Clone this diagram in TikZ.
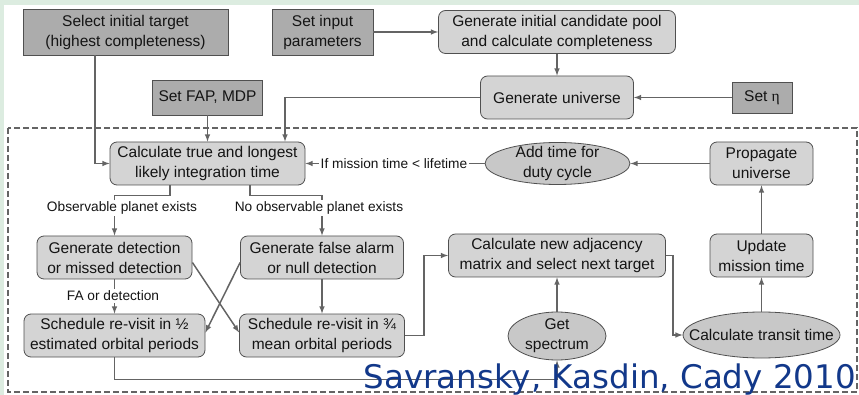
\documentclass[tikz,border=0pt]{standalone}
\usepackage{fontspec}
\setmainfont{Liberation Sans}
\newfontfamily\citefont{DejaVu Sans}
\newfontfamily\etafont{Liberation Serif}
\usepackage{tikz}
\usetikzlibrary{shapes}
\usetikzlibrary{arrows}
\usetikzlibrary{calc}
\definecolor{stripgreen}{RGB}{220,236,224}
\definecolor{boxdark}{RGB}{172,172,172}
\definecolor{boxlight}{RGB}{212,212,212}
\definecolor{ovalgray}{RGB}{200,200,200}
\definecolor{edgegray}{RGB}{100,100,100}
\definecolor{rimgray}{RGB}{80,80,80}
\definecolor{citeblue}{RGB}{18,56,138}
\tikzset{darkbox/.style={rectangle, draw=rimgray, fill=boxdark, line width=0.8pt, inner sep=0pt, align=center, text=black!92, font=\fontsize{15.5}{20}\selectfont}}
\tikzset{roundbox/.style={darkbox, rounded corners=7pt, fill=boxlight}}
\tikzset{oval/.style={ellipse, draw=rimgray, fill=ovalgray, line width=0.8pt, inner sep=0pt}}
\tikzset{ovaltext/.style={align=center, inner sep=0pt, text=black!92, font=\fontsize{15.5}{20}\selectfont}}
\tikzset{link/.style={draw=edgegray, line width=1.5pt, -latex}}
\tikzset{cond/.style={fill=white, inner sep=1.5pt, text=black!92, font=\fontsize{13.7}{16}\selectfont}}

\begin{document}
\begin{tikzpicture}[x=1pt,y=-1pt]
  \useasboundingbox (0,0) rectangle (859,395);
  \fill[white] (0,0) rectangle (859,395);
  \fill[stripgreen] (0,0) rectangle (859,5);
  \fill[stripgreen] (0,0) rectangle (4,395);
  \draw[edgegray, line width=1.2pt, dash pattern=on 6pt off 3pt] (8,128) rectangle (857,392);
  \foreach \lab/\x/\y/\w/\h/\txt in {
    sel/125.5/32/205/46/{Select initial target\\(highest completeness)},
    setin/322.5/32/101/46/{Set input\\parameters},
    fap/207.5/97.5/110/35/{Set FAP, MDP},
    eta/762/97.5/60/31/{Set {\etafont η}}%
  } {
    \node[darkbox, minimum width=\w, minimum height=\h] (\lab) at (\x, \y) {\txt};
  }
  \foreach \lab/\x/\y/\w/\txt in {
    pool/557/32/237/{Generate initial candidate pool\\and calculate completeness},
    univ/557/97.5/153/{Generate universe},
    calc/207.5/163.5/195/{Calculate true and longest\\likely integration time},
    prop/761.5/163.5/103/{Propagate\\universe},
    gdet/114.5/257.5/155/{Generate detection\\or missed detection},
    gfa/322/257.5/163/{Generate false alarm\\or null detection},
    s12/114.5/335.5/181/{Schedule re-visit in ½\\estimated orbital periods},
    s34/322/335.5/165/{Schedule re-visit in ¾\\mean orbital periods},
    adj/557/255.5/217/{Calculate new adjacency\\matrix and select next target},
    upd/761.5/255.5/103/{Update\\mission time}%
  } {
    \node[roundbox, minimum width=\w, minimum height=43] (\lab) at (\x, \y) {\txt};
  }
  \foreach \lab/\x/\y/\w/\h/\txt in {
    add/557.5/163.5/145/42/{Add time for\\duty cycle},
    spec/557/336/98/48/{Get\\spectrum},
    transit/761.5/335/157/46/{Calculate transit time}%
  } {
    \node[oval, minimum width=\w, minimum height=\h] (\lab) at (\x, \y) {};
    \node[ovaltext] at (\lab) {\txt};
  }
  \foreach \u/\v in {
    setin/pool,
    pool/univ,
    eta/univ,
    fap/calc,
    add/calc,
    prop/add,
    upd/prop,
    transit/upd,
    spec/adj,
    gdet/s12,
    gfa/s34%
  }{
    \draw[link] (\u) -- (\v);
  }
  \draw[link] ([xshift=-30.5pt]sel.south) |- (calc.west);
  \draw[link] (univ.west) -| ([xshift=77.5pt]calc.north);
  \draw[link] ([xshift=-37.5pt]calc.south) -- ++(0,10) -| (gdet.north);
  \draw[link] ([xshift=42.5pt]calc.south) -- ++(0,10) -| (gfa.north);
  \draw[link] ([yshift=-5pt]gdet.east) -- ([yshift=3pt]s34.west);
  \draw[link] ([yshift=-5pt]gfa.west) -- ([yshift=3pt]s12.east);
  \draw[link] (s34.east) -- ++(19,0) |- (adj.west);
  \draw[link] (s12.south) -- ++(0,22) -| (spec.south);
  \draw[link] (adj.east) -- ++(7,0) |- (transit.west);
  \node[cond] (obs) at (122,208) {Observable planet exists};
  \node[cond] (noobs) at (319,208) {No observable planet exists};
  \node[cond] (fadet) at (113,296) {FA or detection};
  \node[cond] (life) at (394,164) {If mission time < lifetime};
  \node[anchor=base east, inner sep=0pt, text=citeblue, font=\citefont\fontsize{32.5}{33}\selectfont] (cite) at (856,388) {Savransky, Kasdin, Cady 2010};
\end{tikzpicture}
\end{document}
